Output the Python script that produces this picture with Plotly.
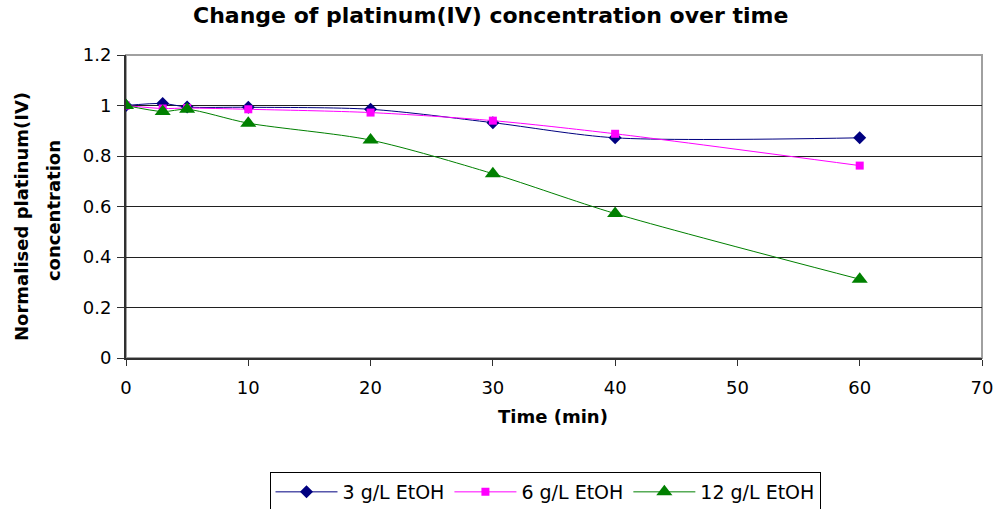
import plotly.graph_objects as go

# Sampling times (min)
time_min = [0, 3, 5, 10, 20, 30, 40, 60]

# Normalised platinum(IV) concentration for each ethanol dose
etoh_3 = [1.0, 1.008, 0.994, 0.993, 0.985, 0.932, 0.872, 0.872]
etoh_6 = [1.0, 0.988, 0.99, 0.985, 0.972, 0.94, 0.888, 0.762]
etoh_12 = [1.0, 0.976, 0.985, 0.93, 0.863, 0.73, 0.572, 0.312]

series_names = ["3 g/L EtOH", "6 g/L EtOH", "12 g/L EtOH"]

x_ticks = [0, 10, 20, 30, 40, 50, 60, 70]
y_ticks = [0, 0.2, 0.4, 0.6, 0.8, 1.0, 1.2]
y_tick_text = ["0", "0.2", "0.4", "0.6", "0.8", "1", "1.2"]

FONT = "DejaVu Sans"

fig = go.Figure()

styles = [
    dict(color="#000080", symbol="diamond", size=10),
    dict(color="#FF00FF", symbol="square", size=8),
    dict(color="#008000", symbol="triangle-up", size=14),
]

for name, ys, st in zip(series_names, [etoh_3, etoh_6, etoh_12], styles):
    fig.add_trace(go.Scatter(
        x=time_min, y=ys, name=name, mode="lines+markers",
        line=dict(color=st["color"], width=1, shape="spline", smoothing=0.8),
        marker=dict(color=st["color"], symbol=st["symbol"], size=st["size"],
                    line=dict(width=0)),
    ))

# plot-area frame (grey top/right edges)
fig.add_shape(type="rect", xref="paper", yref="paper", x0=0, y0=0, x1=1, y1=1,
              line=dict(color="#a0a0a0", width=2), layer="below")

fig.update_layout(
    width=1000, height=509,
    margin=dict(l=126, r=18, t=55, b=151, autoexpand=False),
    paper_bgcolor="white", plot_bgcolor="white",
    font=dict(family=FONT, size=18, color="black"),
    showlegend=True,
    legend=dict(
        orientation="h", xref="container", yref="container",
        x=0.545, xanchor="center", y=1 - 472 / 509, yanchor="top",
        bordercolor="black", borderwidth=1, bgcolor="white",
        font=dict(family=FONT, size=19, color="black"),
        itemwidth=62, tracegroupgap=0,
    ),
    xaxis=dict(
        range=[0, 70], tickvals=x_ticks, showgrid=False, zeroline=False,
        showline=True, linecolor="#303030", linewidth=2, automargin=False,
        ticks="outside", ticklen=6, tickcolor="#303030", tickwidth=1,
        ticklabelstandoff=6,
        tickfont=dict(family=FONT, size=18),
    ),
    yaxis=dict(
        range=[0, 1.2], tickvals=y_ticks, ticktext=y_tick_text,
        showgrid=True, gridcolor="#202020", gridwidth=1, zeroline=False,
        showline=True, linecolor="#303030", linewidth=2, automargin=False,
        ticks="outside", ticklen=7, tickcolor="#303030", tickwidth=1,
        ticklabelstandoff=2,
        tickfont=dict(family=FONT, size=18),
    ),
    annotations=[
        dict(text="<b>Change of platinum(IV) concentration over time</b>",
             xref="paper", yref="paper", x=0.4264, y=1.13,
             xanchor="center", yanchor="middle", showarrow=False,
             font=dict(family=FONT, size=22)),
        dict(text="<b>Time (min)</b>", xref="paper", yref="paper",
             x=0.4988, y=-0.1947, xanchor="center", yanchor="middle",
             showarrow=False, font=dict(family=FONT, size=18)),
        dict(text="<b>Normalised platinum(IV)</b>", xref="paper", yref="paper",
             x=-0.1227, y=0.4686, xanchor="center", yanchor="middle",
             textangle=-90, showarrow=False, font=dict(family=FONT, size=18)),
        dict(text="<b>concentration</b>", xref="paper", yref="paper",
             x=-0.0853, y=0.488, xanchor="center", yanchor="middle",
             textangle=-90, showarrow=False, font=dict(family=FONT, size=18)),
    ],
)

fig.write_html("out.html")
